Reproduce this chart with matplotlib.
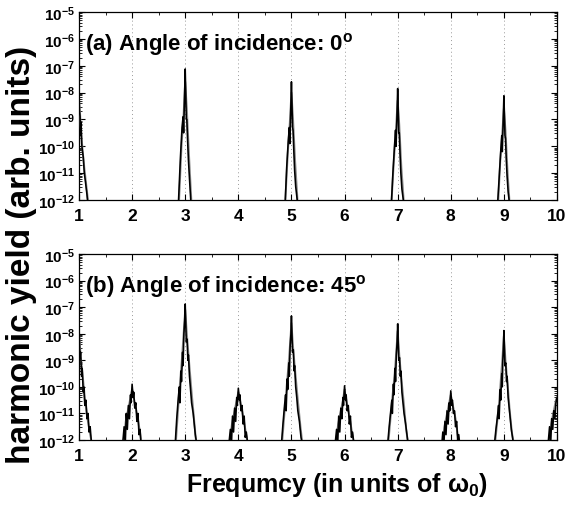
import numpy as np
import matplotlib
matplotlib.use("Agg")
import matplotlib.pyplot as plt
from matplotlib.ticker import FixedLocator, LogLocator, NullFormatter, FuncFormatter

plt.rcParams['font.family'] = ['Liberation Sans', 'DejaVu Sans']
plt.rcParams['font.weight'] = 'bold'
plt.rcParams['mathtext.fontset'] = 'custom'
plt.rcParams['mathtext.rm'] = 'Liberation Sans:bold'
plt.rcParams['mathtext.bf'] = 'Liberation Sans:bold'
plt.rcParams['mathtext.it'] = 'Liberation Sans:bold'
plt.rcParams['mathtext.default'] = 'bf'

# ---------------- data (x in units of w0, y as log10 of harmonic yield) ----------------
nan = np.nan
# panel (a): angle of incidence 0 deg -- black trace
a_black_x = [1.00, 1.01, 1.02, 1.03, 1.04, 1.05, 1.06, 1.08, 1.10, 1.12, 1.15, 1.17, nan,
             2.87, 2.91, 2.94, 2.96, 2.97, 2.985, 3.00, 3.01, 3.02, 3.03, 3.045, 3.06, 3.08, 3.11, nan,
             4.88, 4.91, 4.94, 4.96, 4.97, 4.985, 5.00, 5.01, 5.02, 5.03, 5.045, 5.06, 5.08, 5.12, nan,
             6.88, 6.91, 6.94, 6.96, 6.97, 6.985, 7.00, 7.01, 7.02, 7.03, 7.045, 7.06, 7.08, 7.12, nan,
             8.88, 8.91, 8.94, 8.96, 8.97, 8.985, 9.00, 9.01, 9.02, 9.03, 9.045, 9.06, 9.08, 9.11]
a_black_e = [-8.0, -8.7, -8.9, -9.6, -9.1, -9.9, -10.1, -10.4, -11.0, -11.3, -11.8, -12.2, nan,
             -12.2, -10.4, -9.3, -8.9, -9.5, -8.3, -7.12, -8.0, -9.0, -9.0, -9.8, -10.5, -11.2, -12.2, nan,
             -12.2, -10.8, -9.8, -9.3, -9.9, -8.8, -7.60, -8.4, -9.3, -9.4, -10.2, -10.9, -11.5, -12.2, nan,
             -12.2, -11.0, -10.0, -9.4, -10.0, -9.0, -7.85, -8.6, -9.5, -9.5, -10.3, -11.0, -11.6, -12.2, nan,
             -12.2, -11.2, -10.2, -9.6, -10.2, -9.2, -8.12, -8.8, -9.6, -9.7, -10.5, -11.1, -11.7, -12.2]
# panel (a) -- gray trace
a_gray_x = [1.00, 1.02, 1.04, 1.07, 1.10, 1.14, 1.18, nan,
            2.88, 2.93, 2.97, 3.00, 3.03, 3.07, 3.12, nan,
            4.88, 4.93, 4.97, 5.00, 5.03, 5.07, 5.12, nan,
            6.88, 6.93, 6.97, 7.00, 7.03, 7.07, 7.12, nan,
            8.89, 8.93, 8.97, 9.00, 9.03, 9.07, 9.11]
a_gray_e = [-8.3, -8.8, -9.5, -10.2, -10.8, -11.5, -12.2, nan,
            -12.2, -10.0, -8.8, -7.6, -8.6, -10.3, -12.2, nan,
            -12.2, -10.3, -9.1, -8.0, -9.0, -10.6, -12.2, nan,
            -12.2, -10.5, -9.3, -8.3, -9.2, -10.8, -12.2, nan,
            -12.2, -10.6, -9.5, -8.6, -9.4, -11.0, -12.2]

# panel (b): angle of incidence 45 deg -- black trace
b_black_x = [1.00, 1.01, 1.02, 1.03, 1.05, 1.06, 1.08, 1.09, 1.11, 1.13, 1.15, 1.17, 1.19, 1.21, 1.23, 1.26, nan,
             1.82, 1.85, 1.87, 1.89, 1.91, 1.93, 1.95, 1.97, 1.98, 2.00, 2.02, 2.03, 2.05, 2.07, 2.09, 2.11, 2.13, 2.15, 2.17, nan,
             2.81, 2.84, 2.87, 2.89, 2.90, 2.92, 2.93, 2.95, 2.96, 2.975, 2.99, 3.00, 3.01, 3.02, 3.035, 3.05, 3.06, 3.08, 3.10, 3.12, 3.15, 3.19, 3.22, nan,
             3.82, 3.85, 3.87, 3.89, 3.91, 3.93, 3.95, 3.97, 3.98, 4.00, 4.02, 4.03, 4.05, 4.07, 4.09, 4.11, 4.13, 4.15, 4.18, nan,
             4.81, 4.84, 4.87, 4.89, 4.90, 4.92, 4.93, 4.95, 4.96, 4.975, 4.99, 5.00, 5.01, 5.02, 5.035, 5.05, 5.06, 5.08, 5.10, 5.12, 5.15, 5.18, 5.21, nan,
             5.82, 5.85, 5.87, 5.89, 5.91, 5.93, 5.95, 5.97, 5.98, 6.00, 6.02, 6.03, 6.05, 6.07, 6.09, 6.11, 6.13, 6.15, 6.18, nan,
             6.81, 6.84, 6.87, 6.89, 6.90, 6.92, 6.93, 6.95, 6.96, 6.975, 6.99, 7.00, 7.01, 7.02, 7.035, 7.05, 7.06, 7.08, 7.10, 7.12, 7.15, 7.18, 7.20, nan,
             7.83, 7.85, 7.87, 7.89, 7.91, 7.93, 7.95, 7.97, 7.98, 8.00, 8.02, 8.03, 8.05, 8.07, 8.09, 8.11, 8.13, 8.15, 8.17, nan,
             8.82, 8.85, 8.88, 8.90, 8.91, 8.93, 8.94, 8.96, 8.97, 8.98, 8.99, 9.00, 9.01, 9.02, 9.035, 9.05, 9.06, 9.08, 9.10, 9.12, 9.14, 9.17, 9.19, nan,
             9.83, 9.86, 9.88, 9.90, 9.92, 9.94, 9.96, 9.98, 10.00]
b_black_e = [-7.65, -8.4, -8.9, -8.7, -9.6, -9.3, -10.2, -10.0, -10.7, -10.5, -11.2, -11.0, -11.7, -11.5, -12.0, -12.2, nan,
             -12.2, -11.5, -12.2, -11.0, -11.6, -10.7, -11.2, -10.3, -10.6, -9.9, -10.4, -10.2, -10.8, -10.6, -11.3, -11.0, -11.8, -11.6, -12.2, nan,
             -12.2, -11.2, -10.4, -10.0, -10.6, -9.4, -9.8, -8.7, -9.2, -8.0, -7.5, -6.88, -7.6, -8.3, -8.2, -9.0, -8.8, -9.6, -10.1, -10.6, -11.0, -11.8, -12.2, nan,
             -12.2, -11.6, -12.2, -11.1, -11.7, -10.8, -11.3, -10.4, -10.7, -10.05, -10.5, -10.3, -10.9, -10.7, -11.4, -11.1, -11.9, -11.7, -12.2, nan,
             -12.2, -11.4, -10.7, -10.3, -10.9, -9.7, -10.1, -9.1, -9.6, -8.5, -8.0, -7.33, -8.0, -8.7, -8.6, -9.4, -9.2, -10.0, -10.4, -10.9, -11.3, -11.9, -12.2, nan,
             -12.2, -11.6, -12.2, -11.1, -11.7, -10.8, -11.2, -10.4, -10.7, -9.96, -10.5, -10.3, -10.9, -10.7, -11.4, -11.1, -11.9, -11.7, -12.2, nan,
             -12.2, -11.5, -10.9, -10.5, -11.0, -9.9, -10.3, -9.3, -9.8, -8.8, -8.3, -7.63, -8.3, -9.0, -8.9, -9.6, -9.4, -10.2, -10.6, -11.0, -11.4, -11.9, -12.2, nan,
             -12.2, -11.7, -12.2, -11.3, -11.8, -10.9, -11.4, -10.6, -10.9, -10.15, -10.7, -10.5, -11.0, -10.9, -11.5, -11.3, -12.0, -11.8, -12.2, nan,
             -12.2, -11.6, -11.1, -10.7, -11.2, -10.1, -10.5, -9.5, -10.0, -9.0, -8.6, -7.88, -8.6, -9.2, -9.1, -9.8, -9.6, -10.4, -10.8, -11.2, -11.6, -12.0, -12.2, nan,
             -12.2, -11.5, -12.2, -11.2, -11.6, -10.9, -11.2, -10.6, -10.4]
# panel (b) -- gray trace
b_gray_x = [1.00, 1.03, 1.07, 1.11, 1.16, 1.21, 1.25, nan,
            1.83, 1.88, 1.93, 1.97, 2.00, 2.04, 2.09, 2.14, 2.18, nan,
            2.82, 2.86, 2.90, 2.94, 2.97, 3.00, 3.03, 3.07, 3.12, 3.17, 3.21, nan,
            3.83, 3.88, 3.93, 3.97, 4.00, 4.04, 4.09, 4.14, 4.18, nan,
            4.82, 4.86, 4.90, 4.94, 4.97, 5.00, 5.03, 5.07, 5.12, 5.17, 5.21, nan,
            5.83, 5.88, 5.93, 5.97, 6.00, 6.04, 6.09, 6.14, 6.18, nan,
            6.82, 6.86, 6.90, 6.94, 6.97, 7.00, 7.03, 7.07, 7.12, 7.16, 7.20, nan,
            7.84, 7.88, 7.93, 7.97, 8.00, 8.04, 8.09, 8.13, 8.17, nan,
            8.83, 8.87, 8.91, 8.94, 8.97, 9.00, 9.03, 9.07, 9.11, 9.15, 9.19, nan,
            9.84, 9.89, 9.94, 9.98, 10.00]
b_gray_e = [-8.0, -8.8, -9.6, -10.4, -11.2, -11.8, -12.2, nan,
            -12.2, -11.3, -10.8, -10.4, -10.1, -10.5, -11.0, -11.6, -12.2, nan,
            -12.2, -11.0, -9.9, -8.9, -8.0, -7.1, -8.0, -9.0, -10.2, -11.3, -12.2, nan,
            -12.2, -11.4, -10.9, -10.5, -10.2, -10.6, -11.1, -11.7, -12.2, nan,
            -12.2, -11.2, -10.2, -9.3, -8.5, -7.6, -8.5, -9.4, -10.5, -11.5, -12.2, nan,
            -12.2, -11.4, -10.9, -10.5, -10.1, -10.6, -11.1, -11.7, -12.2, nan,
            -12.2, -11.3, -10.4, -9.6, -8.8, -7.9, -8.8, -9.7, -10.7, -11.6, -12.2, nan,
            -12.2, -11.5, -11.0, -10.6, -10.3, -10.7, -11.2, -11.8, -12.2, nan,
            -12.2, -11.4, -10.6, -9.8, -9.0, -8.1, -9.0, -9.9, -10.9, -11.7, -12.2, nan,
            -12.2, -11.4, -10.9, -10.5, -10.4]

x_ticks = [1, 2, 3, 4, 5, 6, 7, 8, 9, 10]
y_decades = [-12, -11, -10, -9, -8, -7, -6, -5]
panel_labels = ["(a) Angle of incidence: 0$^{\\mathbf{o}}$", "(b) Angle of incidence: 45$^{\\mathbf{o}}$"]
y_label = "harmonic yield (arb. units)"
x_label = "Frequmcy (in units of $\\omega_0$)"

# ---------------- figure ----------------
W, H = 567, 510
fig = plt.figure(figsize=(W / 100, H / 100), dpi=100)
ax_a = fig.add_axes([79 / W, 1 - 201 / H, (557 - 79) / W, (201 - 13) / H])
ax_b = fig.add_axes([79 / W, 1 - 441 / H, (557 - 79) / W, (441 - 255) / H])

def ylab(v, pos):
    e = int(round(np.log10(v)))
    return "10$^{%d}$" % e

series = [(ax_a, a_black_x, a_black_e, a_gray_x, a_gray_e),
          (ax_b, b_black_x, b_black_e, b_gray_x, b_gray_e)]
for i, (ax, bx, be, gx, ge) in enumerate(series):
    ax.plot(gx, 10.0 ** np.array(ge, dtype=float), color='#8a8a8a', lw=1.4, zorder=3)
    ax.plot(bx, 10.0 ** np.array(be, dtype=float), color='black', lw=1.15, zorder=4)
    ax.set_yscale('log')
    ax.set_xlim(1, 10)
    ax.set_ylim(10.0 ** y_decades[0], 10.0 ** y_decades[-1])
    for xv in x_ticks[1:-1]:
        ax.axvline(xv, color='#999999', lw=0.7, ls=(0, (1, 3)), zorder=1)
    ax.xaxis.set_major_locator(FixedLocator(x_ticks))
    ax.xaxis.set_minor_locator(FixedLocator(np.arange(1.5, 10, 1.0)))
    ax.yaxis.set_major_locator(FixedLocator([10.0 ** d for d in y_decades]))
    ax.yaxis.set_minor_locator(LogLocator(base=10, subs=np.arange(2, 10), numticks=20))
    ax.yaxis.set_minor_formatter(NullFormatter())
    ax.yaxis.set_major_formatter(FuncFormatter(ylab))
    ax.tick_params(which='both', direction='in', top=True, right=True)
    ax.tick_params(which='major', length=4, width=0.8)
    ax.tick_params(which='minor', length=2.5, width=0.6)
    ax.tick_params(axis='x', which='major', labelsize=12.5, pad=6)
    ax.tick_params(axis='y', which='major', labelsize=11, pad=3)
    for lbl in ax.get_xticklabels() + ax.get_yticklabels():
        lbl.set_fontweight('bold')
    for s in ax.spines.values():
        s.set_linewidth(0.9)
    ax.text(0.013, 0.83, panel_labels[i], transform=ax.transAxes,
            fontsize=16, fontweight='bold', ha='left', va='center')

fig.text(0.038, 0.5, y_label, rotation=90, ha='center', va='center',
         fontsize=24, fontweight='bold')
fig.text(337 / W, 1 - 485 / H, x_label, ha='center', va='center',
         fontsize=18, fontweight='bold')

fig.savefig('out.png', dpi=100)
